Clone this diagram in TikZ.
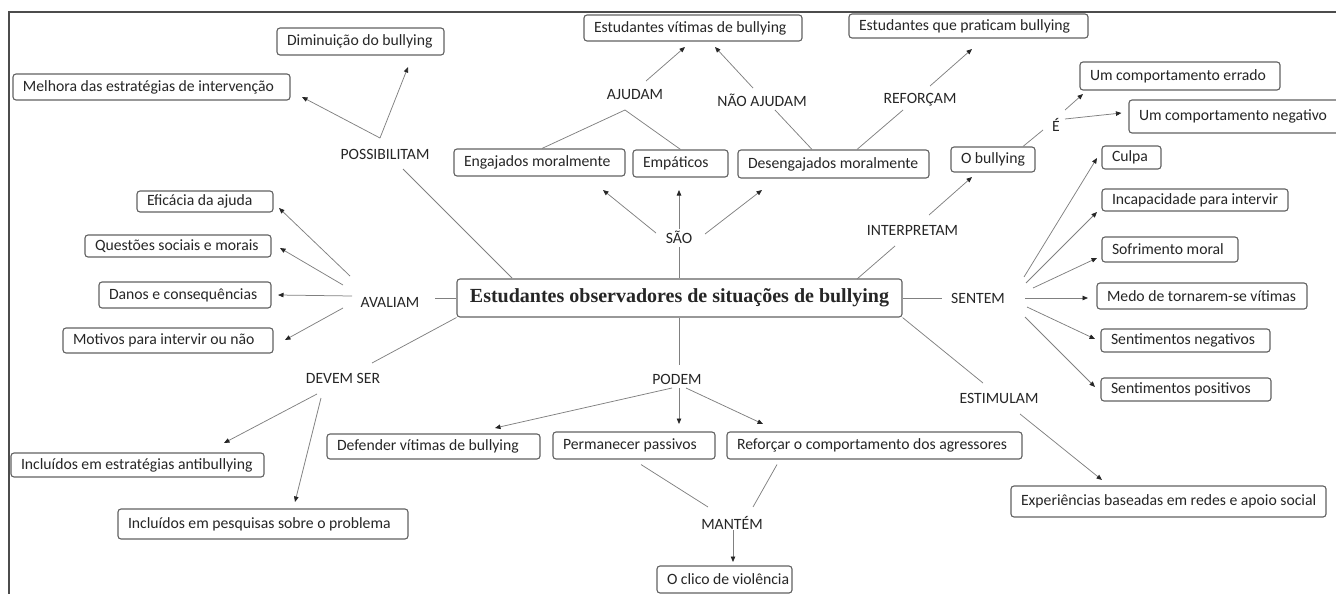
\documentclass[tikz,border=0pt]{standalone}
\usepackage{fontspec}
\setmainfont{Carlito}
\newfontfamily\titlefont{Liberation Serif}
\usetikzlibrary{arrows.meta,calc}
\newcommand{\bx}[2]{\makebox[#1pt][l]{#2}}
\tikzset{
  every node/.style={text=black!85, font=\fontsize{15.7}{18}\selectfont},
  box/.style={draw=black!62, line width=1.1pt, rounded corners=3pt, inner xsep=10pt, inner ysep=1pt, fill=white},
  lab/.style={inner sep=1pt},
  ln/.style={draw=black!50, line width=0.75pt},
  arr/.style={ln, -{Triangle[length=5.5pt,width=4.5pt,color=black!85]}},
  frame/.style={draw=black!70, line width=1.3pt}
}
\begin{document}
\begin{tikzpicture}[x=1pt,y=-1pt]
\useasboundingbox (0,0) rectangle (1336,594);
\clip (0,0) rectangle (1336,594);
\draw[frame] (9,600) -- (9,12) -- (1340,12);

% central node
\node[box, minimum height=38pt, inner xsep=10pt, font=\titlefont\bfseries\fontsize{20}{22}\selectfont] (main) at (679.5,298) {\makebox[425pt]{Estudantes observadores de situações de bullying}};

% boxes
\node[box, minimum height=27pt] (dim)   at (360.5,41.5) {\bx{147}{Diminuição do bullying}};
\node[box, minimum height=26pt] (mel)   at (151.5,87)   {\bx{257}{Melhora das estratégias de intervenção}};
\node[box, minimum height=26pt] (vit)   at (693,28)     {\bx{198}{Estudantes vítimas de bullying}};
\node[box, minimum height=24pt] (prat)  at (968.5,26)   {\bx{219}{Estudantes que praticam bullying}};
\node[box, minimum height=27pt] (eng)   at (539.5,162.5){\bx{151}{Engajados moralmente}};
\node[box, minimum height=27pt] (emp)   at (680.5,163.5){\bx{75}{Empáticos}};
\node[box, minimum height=28pt] (des)   at (833.5,164)  {\bx{171}{Desengajados moralmente}};
\node[box, minimum height=28pt] (err)   at (1180,76)    {\bx{180}{Um comportamento errado}};
\node[box, minimum height=33pt] (neg)   at (1237,116.5) {\bx{196}{Um comportamento negativo}};
\node[box, minimum height=25pt] (obul)  at (993,159.5)  {\bx{64}{O bullying}};
\node[box, minimum height=23pt] (culpa) at (1131.5,157.5){\bx{39}{Culpa}};
\node[box, minimum height=22pt] (inc)   at (1195,200)   {\bx{166}{Incapacidade para intervir}};
\node[box, minimum height=25pt] (sof)   at (1170,249.5) {\bx{116}{Sofrimento moral}};
\node[box, minimum height=26pt] (medo)  at (1202,296)   {\bx{190}{Medo de tornarem-se vítimas}};
\node[box, minimum height=23pt] (sneg)  at (1185.5,340.5){\bx{149}{Sentimentos negativos}};
\node[box, minimum height=23pt] (spos)  at (1186,389.5) {\bx{150}{Sentimentos positivos}};
\node[box, minimum height=21pt] (efi)   at (205,201.5)  {\bx{116}{Eficácia da ajuda}};
\node[box, minimum height=22pt] (que)   at (178,246)    {\bx{166}{Questões sociais e morais}};
\node[box, minimum height=26pt] (dan)   at (185,295)    {\bx{152}{Danos e consequências}};
\node[box, minimum height=25pt] (mot)   at (168,340.5)  {\bx{190}{Motivos para intervir ou não}};
\node[box, minimum height=24pt] (inca)  at (137.5,465)  {\bx{233}{Incluídos em estratégias antibullying}};
\node[box, minimum height=30pt] (incb)  at (263,524)    {\bx{270}{Incluídos em pesquisas sobre o problema}};
\node[box, minimum height=25pt] (def)   at (433.5,446.5){\bx{193}{Defender vítimas de bullying}};
\node[box, minimum height=27pt] (perm)  at (634,445.5)  {\bx{142}{Permanecer passivos}};
\node[box, minimum height=27pt] (ref)   at (874.5,445.5){\bx{275}{Reforçar o comportamento dos agressores}};
\node[box, minimum height=27pt] (cic)   at (724.5,579.5){\bx{115}{O clico de violência}};
\node[box, minimum height=31pt] (exp)   at (1168.5,501.5){\bx{295}{Experiências baseadas em redes e apoio social}};

% linking words
\node[lab] (poss)   at (385,154)   {POSSIBILITAM};
\node[lab] (ajud)   at (635,95)    {AJUDAM};
\node[lab] (naoaj)  at (762,100)   {NÃO AJUDAM};
\node[lab] (refo)   at (920,100)   {REFORÇAM};
\node[lab] (e)      at (1056,125)  {É};
\node[lab] (sao)    at (679,237)   {SÃO};
\node[lab] (interp) at (912.5,230) {INTERPRETAM};
\node[lab] (aval)   at (390,302)   {AVALIAM};
\node[lab] (sentem) at (978,298)   {SENTEM};
\node[lab] (devem)  at (343,378)   {DEVEM SER};
\node[lab] (podem)  at (677,379)   {PODEM};
\node[lab] (estim)  at (999,398)   {ESTIMULAM};
\node[lab] (mant)   at (732,523)   {MANTÉM};

% plain lines
\draw[ln] ($(main)+(-167.5,-20)$) -- ($(poss)+(18,15)$);
\draw[ln] (main.west) -- ($(aval)+(45,-4)$);
\draw[ln] (main.south west) -- ($(devem)+(29,-15)$);
\draw[ln] (main.north) -- ($(sao)+(0.5,10)$);
\draw[ln] ($(main)+(177.5,-19)$) -- ($(interp)+(-17.5,16)$);
\draw[ln] (main.east) -- ($(sentem)+(-36,0)$);
\draw[ln] (main.south east) -- ($(estim)+(-16,-15)$);
\draw[ln] (main.south) -- ($(podem)+(2.5,-14)$);
\draw[ln] ($(eng.north)+(2.5,0)$) -- ($(ajud)+(-10,15)$) -- (emp.north);
\draw[ln] ($(des.north)+(-21.5,0)$) -- ($(naoaj)+(13,10)$);
\draw[ln] ($(des.north)+(23.5,0)$) -- ($(refo)+(-17,10)$);
\draw[ln] ($(obul.north)+(30,0)$) -- ($(e)+(-13,5)$);
\draw[ln] ($(perm.south)+(7,5)$) -- ($(mant)+(-24,-16)$);
\draw[ln] ($(ref.south)+(-97.5,5)$) -- ($(mant)+(21,-16)$);

% arrows
\draw[arr] ($(poss)+(-5,-16)$) -- ($(dim)+(47.5,25.5)$);
\draw[arr] ($(poss)+(-5,-16)$) -- ($(mel)+(150.5,10)$);
\draw[arr] ($(ajud)+(11,-14)$) -- ($(vit)+(-8,19)$);
\draw[arr] ($(naoaj)+(-9,-12)$) -- ($(vit)+(22,19)$);
\draw[arr] ($(refo)+(10,-14)$) -- ($(prat)+(3.5,23)$);
\draw[arr] ($(e)+(9,-15)$) -- ($(err)+(-97,18)$);
\draw[arr] ($(e)+(9,-6)$) -- ($(neg.west)+(-7,-3.5)$);
\draw[arr] ($(sao)+(-23,-4)$) -- ($(eng)+(63.5,27.5)$);
\draw[arr] ($(sao)+(0,-8)$) -- ($(emp)+(-1.5,26.5)$);
\draw[arr] ($(sao)+(26,-3)$) -- ($(des)+(-71.5,26)$);
\draw[arr] ($(interp)+(16.5,-15)$) -- ($(obul)+(-21,17.5)$);
\draw[arr] ($(aval)+(-40,-26)$) -- ($(efi)+(74,6.5)$);
\draw[arr] ($(aval)+(-47,-17)$) -- ($(que)+(102,2)$);
\draw[arr] ($(aval)+(-38,-6)$) -- ($(dan)+(93,0)$);
\draw[arr] ($(aval)+(-47,6)$) -- ($(mot)+(117,-0.5)$);
\draw[arr] ($(sentem)+(46,-21)$) -- ($(culpa)+(-34.5,0.5)$);
\draw[arr] ($(sentem)+(48,-15)$) -- ($(inc)+(-98,12)$);
\draw[arr] ($(sentem)+(55,-10)$) -- ($(sof)+(-73,8.5)$);
\draw[arr] ($(sentem)+(47,0)$) -- ($(medo)+(-114,2)$);
\draw[arr] ($(sentem)+(49,9)$) -- ($(sneg)+(-90.5,-1.5)$);
\draw[arr] ($(sentem)+(47,19)$) -- ($(spos)+(-91,-2.5)$);
\draw[arr] ($(devem)+(-26,16)$) -- ($(inca)+(86.5,-22)$);
\draw[arr] ($(devem)+(-22,20)$) -- ($(incb)+(32,-22)$);
\draw[arr] ($(podem)+(-5,9)$) -- ($(def)+(61.5,-18.5)$);
\draw[arr] ($(podem)+(2,9)$) -- ($(perm)+(45,-21.5)$);
\draw[arr] ($(podem)+(9,9)$) -- ($(ref)+(-111.5,-21.5)$);
\draw[arr] ($(mant)+(1,7)$) -- ($(cic)+(8.5,-17.5)$);
\draw[arr] ($(estim)+(21,16)$) -- ($(exp)+(-66.5,-21.5)$);
\end{tikzpicture}
\end{document}
